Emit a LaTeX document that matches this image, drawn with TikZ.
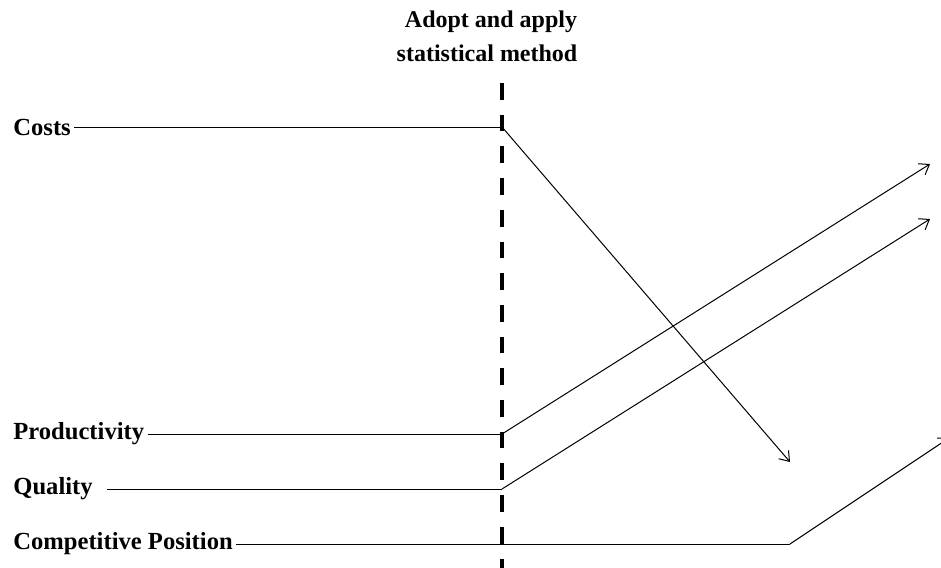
\documentclass[tikz,border=0pt]{standalone}
\usepackage{fontspec}
\setmainfont{Liberation Serif}
\usepackage{tikz}
\usetikzlibrary{arrows.meta,positioning}

\tikzset{
  lbl/.style={font=\fontsize{12.3}{14}\selectfont\bfseries, inner sep=1.5pt, anchor=west},
  ttl/.style={font=\fontsize{12}{14}\selectfont\bfseries, inner sep=0pt, anchor=base},
  trend/.style={line width=0.5pt, -{Straight Barb[length=4.5pt,width=6.5pt]}},
  flat/.style={line width=0.5pt}
}

\begin{document}
\begin{tikzpicture}[x=0.5pt, y=-0.5pt]

    \useasboundingbox (0,0) rectangle (941,567);
    \clip (0,0) rectangle (941,567);

    % Title
    \node[ttl] (title1) at (491,28) {Adopt and apply};
    \node[ttl] (title2) at (487,62) {statistical method};

    % Dashed line
    \coordinate (dtop) at (502,83);
    \coordinate (dbot) at (502,575);
    \draw[line width=2pt, dash pattern=on 8.35pt off 7.5pt] (dtop) -- (dbot);

    % Points on the dashed line
    \coordinate (c0) at (502,127);
    \coordinate (p0) at (502,434);
    \coordinate (q0) at (502,489);
    \coordinate (k1) at (790,544);

    % Labels
    \node[lbl] (costs) at (10,127) {Costs};
    \node[lbl] (prod) at (10,434) {Productivity};
    \node[lbl] (qual) at (10,489) {Quality};
    \node[lbl] (comp) at (10,544) {Competitive Position};

    % Ends of the arrows
    \coordinate (c1) at (790,462);
    \coordinate (p1) at (930,164);
    \coordinate (q1) at (930,219);
    \coordinate (k2) at (949,438);

    % Before
    \draw[flat] (costs.east) -- (c0);
    \draw[flat] (prod.east) -- (p0);
    \draw[flat] ([xshift=5.5pt]qual.east) -- (q0);
    \draw[flat] (comp.east) -- (k1);

    % After
    \draw[trend] (c0) -- (c1);
    \draw[trend] (p0) -- (p1);
    \draw[trend] (q0) -- (q1);
    \draw[trend] (k1) -- (k2);

\end{tikzpicture}
\end{document}
